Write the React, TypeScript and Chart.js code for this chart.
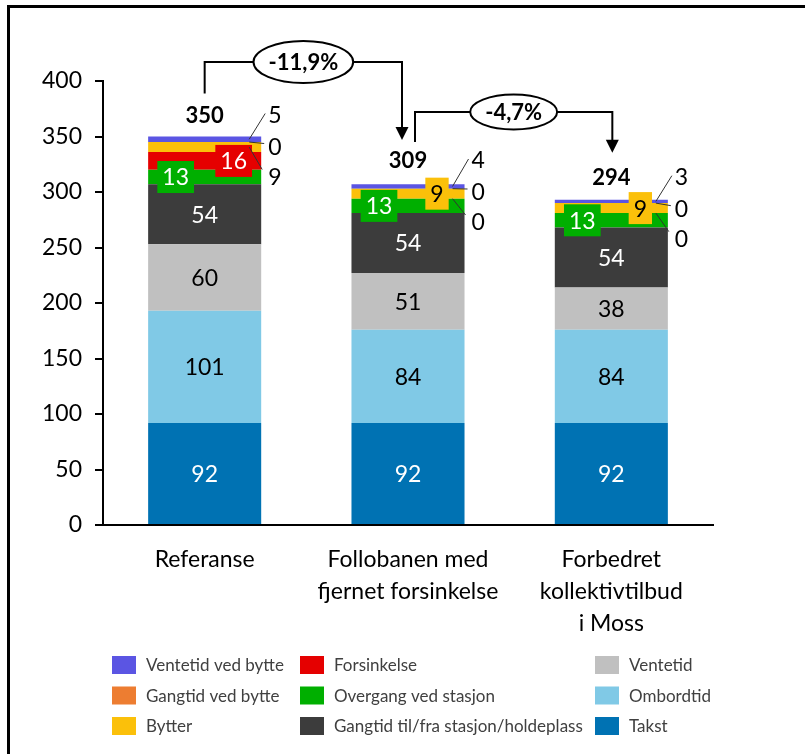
import React, { useEffect, useRef } from "react";
import { Chart, registerables } from "chart.js";

Chart.register(...registerables);

// Categories (multi-line axis labels)
const categories: string[][] = [
  ["Referanse"],
  ["Follobanen med", "fjernet forsinkelse"],
  ["Forbedret", "kollektivtilbud", "i Moss"],
];

// Generalised travel cost components, bottom of the stack first
const takst = [92, 92, 92];
const ombordtid = [101, 84, 84];
const ventetid = [60, 51, 38];
const gangtidStasjon = [54, 54, 54];
const overgang = [13, 13, 13];
const forsinkelse = [16, 0, 0];
const bytter = [9, 9, 9];
const gangtidBytte = [0, 0, 0];
const ventetidBytte = [5, 4, 3];

// Stack totals and relative change between scenarios
const totals = [350, 309, 294];
const changes = ["-11,9%", "-4,7%"];

const FONT = "Lato, 'Open Sans', 'DejaVu Sans', sans-serif";

type Mode = "in" | "boxL" | "boxR" | "out1" | "out2" | "out3";

interface Series {
  label: string;
  data: number[];
  color: string;
  text: string;
  modes: Mode[];
}

const series: Series[] = [
  { label: "Takst", data: takst, color: "#0072B3", text: "#ffffff", modes: ["in", "in", "in"] },
  { label: "Ombordtid", data: ombordtid, color: "#80C9E6", text: "#000000", modes: ["in", "in", "in"] },
  { label: "Ventetid", data: ventetid, color: "#C0C0C0", text: "#000000", modes: ["in", "in", "in"] },
  { label: "Gangtid til/fra stasjon/holdeplass", data: gangtidStasjon, color: "#3C3C3C", text: "#ffffff", modes: ["in", "in", "in"] },
  { label: "Overgang ved stasjon", data: overgang, color: "#00AF00", text: "#ffffff", modes: ["boxL", "boxL", "boxL"] },
  { label: "Forsinkelse", data: forsinkelse, color: "#E50000", text: "#ffffff", modes: ["boxR", "out3", "out3"] },
  { label: "Bytter", data: bytter, color: "#FBC00A", text: "#000000", modes: ["out3", "boxR", "boxR"] },
  { label: "Gangtid ved bytte", data: gangtidBytte, color: "#ED7D31", text: "#000000", modes: ["out2", "out2", "out2"] },
  { label: "Ventetid ved bytte", data: ventetidBytte, color: "#5B55E3", text: "#000000", modes: ["out1", "out1", "out1"] },
];

const annotations = {
  id: "annotations",
  afterDraw(chart: any) {
    const ctx: CanvasRenderingContext2D = chart.ctx;
    const ys = chart.scales.y;
    const metas = series.map((_, i) => chart.getDatasetMeta(i));

    ctx.save();

    // frame
    ctx.fillStyle = "#000";
    ctx.fillRect(7, 5, 798, 3);
    ctx.fillRect(7, 5, 3, 749);

    const centers: number[] = [];

    categories.forEach((_, ci) => {
      const base = metas[0].data[ci];
      const cx = base.x;
      const right = cx + base.width / 2;
      centers.push(cx);
      const topY = ys.getPixelForValue(totals[ci]);

      // labels inside segments
      ctx.textAlign = "center";
      ctx.textBaseline = "middle";
      ctx.font = `23px ${FONT}`;
      series.forEach((s, di) => {
        const el = metas[di].data[ci];
        const cy = (el.y + el.base) / 2;
        const mode = s.modes[ci];
        const txt = String(s.data[ci]);
        if (mode === "in") {
          ctx.fillStyle = s.text;
          ctx.fillText(txt, cx, cy + 1);
        }
      });
      // boxed labels
      series.forEach((s, di) => {
        const el = metas[di].data[ci];
        const cy = (el.y + el.base) / 2;
        const mode = s.modes[ci];
        if (mode !== "boxL" && mode !== "boxR") return;
        const txt = String(s.data[ci]);
        const w = ctx.measureText(txt).width + 10;
        const h = 32;
        const bx = mode === "boxL" ? cx - 29 : cx + 29;
        ctx.fillStyle = s.color;
        ctx.fillRect(bx - w / 2, cy - h / 2, w, h);
        ctx.fillStyle = s.text;
        ctx.fillText(txt, bx, cy + 1);
      });
      // labels outside the bar with leader lines
      series.forEach((s, di) => {
        const el = metas[di].data[ci];
        const cy = (el.y + el.base) / 2;
        const mode = s.modes[ci];
        if (mode !== "out1" && mode !== "out2" && mode !== "out3") return;
        const lx = right + 13;
        let ly = topY - 21;
        let ex = lx - 9;
        let ey = ly - 2;
        if (mode === "out2") {
          ly = topY + 11;
          ex = lx - 10;
          ey = ly - 4;
        } else if (mode === "out3") {
          ly = topY + 41;
          ex = lx - 12;
          ey = ly - 8;
        }
        ctx.strokeStyle = "#333";
        ctx.lineWidth = 1;
        ctx.beginPath();
        ctx.moveTo(right - 12, cy);
        ctx.lineTo(ex, ey);
        ctx.stroke();
        ctx.fillStyle = "#000";
        ctx.textAlign = "left";
        ctx.fillText(String(s.data[ci]), lx - 6, ly);
        ctx.textAlign = "center";
      });

      // total above the stack
      ctx.font = `bold 22px ${FONT}`;
      ctx.fillStyle = "#000";
      ctx.fillText(String(totals[ci]), cx, topY - 21);
    });

    // change arrows between scenarios
    const drawArrow = (
      x0: number, y0: number, yb: number, x1: number, tip: number,
      text: string, ry: number
    ) => {
      ctx.strokeStyle = "#000";
      ctx.fillStyle = "#000";
      ctx.lineWidth = 2;
      ctx.beginPath();
      ctx.moveTo(x0, y0);
      ctx.lineTo(x0, yb);
      ctx.lineTo(x1, yb);
      ctx.lineTo(x1, tip - 11);
      ctx.stroke();
      ctx.beginPath();
      ctx.moveTo(x1 - 6.5, tip - 13);
      ctx.lineTo(x1 + 6.5, tip - 13);
      ctx.lineTo(x1, tip);
      ctx.closePath();
      ctx.fill();
      ctx.font = `bold 22px ${FONT}`;
      const ex = (x0 + x1) / 2;
      const rx = ctx.measureText(text).width / 2 + 15;
      ctx.beginPath();
      ctx.ellipse(ex, yb, rx, ry, 0, 0, Math.PI * 2);
      ctx.fillStyle = "#fff";
      ctx.fill();
      ctx.stroke();
      ctx.fillStyle = "#000";
      ctx.textAlign = "center";
      ctx.textBaseline = "middle";
      ctx.fillText(text, ex, yb + 1);
    };
    const t0 = ys.getPixelForValue(totals[0]);
    const t1 = ys.getPixelForValue(totals[1]);
    const t2 = ys.getPixelForValue(totals[2]);
    drawArrow(centers[0], t0 - 43, ys.getPixelForValue(400) - 19, centers[1] - 6, t1 - 42, changes[0], 21);
    drawArrow(centers[1] + 7, t1 - 40, t1 - 70, centers[2] + 1, t2 - 46, changes[1], 17.5);

    // legend: three columns, top of stack first
    const colX = [112, 300, 595];
    const rowY = [665, 695.5, 726];
    ctx.font = `17px ${FONT}`;
    ctx.textAlign = "left";
    ctx.textBaseline = "middle";
    [...series].reverse().forEach((s, k) => {
      const col = Math.floor(k / 3);
      const row = k % 3;
      const x = colX[col];
      const y = rowY[row];
      ctx.fillStyle = s.color;
      ctx.fillRect(x, y - 9, 24, 18);
      ctx.fillStyle = "#404040";
      ctx.fillText(s.label, x + 34, y + 1);
    });

    ctx.restore();
  },
};

export default function App() {
  const ref = useRef<HTMLCanvasElement | null>(null);

  useEffect(() => {
    if (!ref.current) return;
    const chart = new Chart(ref.current, {
      type: "bar",
      data: {
        labels: categories,
        datasets: series.map((s) => ({
          label: s.label,
          data: s.data,
          backgroundColor: s.color,
          borderWidth: 0,
          barPercentage: 0.556,
          categoryPercentage: 1,
        })),
      },
      options: {
        responsive: false,
        animation: false,
        events: [],
        layout: { padding: { top: 81, right: 92, bottom: 0, left: 0 } },
        plugins: {
          legend: { display: false },
          tooltip: { enabled: false },
        },
        scales: {
          x: {
            stacked: true,
            grid: { display: false },
            border: { display: true, color: "#000", width: 2 },
            ticks: {
              color: "#000",
              font: { family: FONT, size: 23, lineHeight: 32 / 23 },
              padding: 11,
              maxRotation: 0,
              autoSkip: false,
            },
            afterFit: (s: any) => {
              s.height = 229;
            },
          },
          y: {
            stacked: true,
            min: 0,
            max: 400,
            ticks: {
              stepSize: 50,
              color: "#000",
              font: { family: FONT, size: 23 },
              padding: 13,
            },
            grid: {
              drawOnChartArea: false,
              drawTicks: true,
              tickLength: 8,
              color: "#000",
              lineWidth: 2,
            },
            border: { display: true, color: "#000", width: 2 },
            afterFit: (s: any) => {
              s.width = 103;
            },
          },
        },
      },
      plugins: [annotations],
    });
    return () => chart.destroy();
  }, []);

  return (
    <div style={{ position: "fixed", left: 0, top: 0, width: 805, height: 754, background: "#fff" }}>
      <canvas ref={ref} width={805} height={754} style={{ display: "block", width: 805, height: 754 }} />
    </div>
  );
}
